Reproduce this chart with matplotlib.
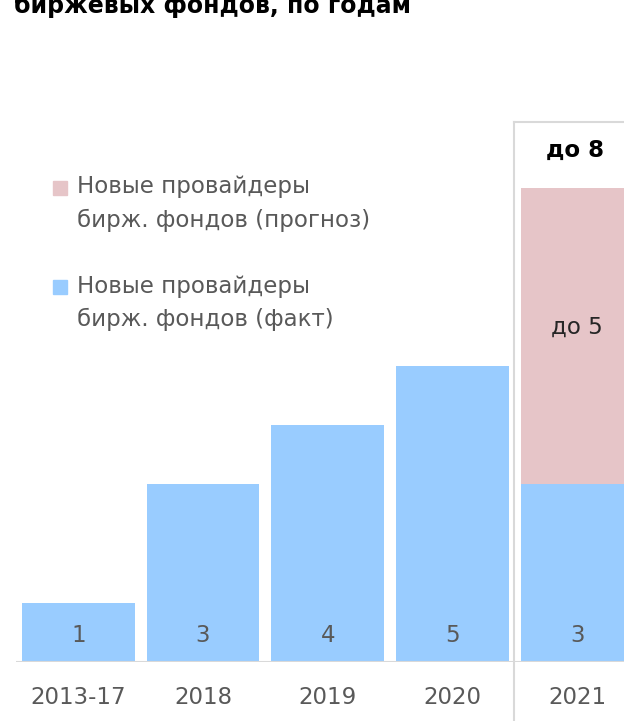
import matplotlib.pyplot as plt
import matplotlib.patches as mpatches
import numpy as np

# data
years = ["2013-17", "2018", "2019", "2020", "2021"]
fact = [1, 3, 4, 5, 3]
forecast = [0, 0, 0, 0, 5]
fact_labels = ["1", "3", "4", "5", "3"]
forecast_label = "до 5"
total_label = "до 8"
legend_forecast = ["Новые провайдеры", "бирж. фондов (прогноз)"]
legend_fact = ["Новые провайдеры", "бирж. фондов (факт)"]
title = "биржевых фондов, по годам"

BLUE = "#99ccff"
PINK = "#e6c5c8"
GREY_TXT = "#595959"
GRID = "#d9d9d9"

plt.rcParams["font.family"] = ["DejaVu Sans"]

W, H = 624, 721
fig = plt.figure(figsize=(W / 100, H / 100), dpi=100)

px_unit = 59.2           # pixels per unit on y
base_px = 662            # baseline (from top)
top_px = 100
ax = fig.add_axes([16 / W, (H - base_px) / H, (W - 16) / W, (base_px - top_px) / H])
ax.set_xlim(-0.5, 4.376)
ax.set_ylim(0, (base_px - top_px) / px_unit)
for s in ax.spines.values():
    s.set_visible(False)
ax.set_yticks([])

x = np.arange(len(years))
ax.bar(x, fact, width=0.905, color=BLUE, zorder=2)
ax.bar(x, forecast, bottom=fact, width=0.905, color=PINK, zorder=2)
ax.axhline(0, color=GRID, linewidth=1.5, zorder=3)

for xi, v, lab in zip(x, fact, fact_labels):
    ax.text(xi, 0.44, lab, ha="center", va="center", fontsize=16.5, color=GREY_TXT, zorder=4)

ax.text(4, fact[4] + forecast[4] * 0.53, forecast_label, ha="center", va="center",
        fontsize=16.5, color="#262626", zorder=4)
ax.text(4.0 - 0.02, (base_px - 150) / px_unit, total_label, ha="center", va="center",
        fontsize=16.5, fontweight="bold", color="black", zorder=4)

ax.set_xticks(x, years)
ax.tick_params(axis="x", length=0, pad=17, labelsize=16.5, labelcolor=GREY_TXT)

# box around forecast year
y_top = (base_px - 122) / px_unit
y_bot = -(H - base_px) / px_unit
ax.plot([3.49, 3.49], [y_bot, y_top], color=GRID, lw=1.5, clip_on=False, zorder=1)
ax.plot([3.49, 4.5], [y_top, y_top], color=GRID, lw=1.5, clip_on=False, zorder=1)

# legend
def legend_entry(y_px, color, lines):
    fig.add_artist(mpatches.Rectangle((53 / W, 1 - (y_px + 8) / H), 14 / W, 14 / H,
                                      transform=fig.transFigure, color=color))
    for i, ln in enumerate(lines):
        fig.text(77 / W, 1 - (y_px + 33 * i) / H, ln, ha="left", va="center",
                 fontsize=16.5, color=GREY_TXT)

legend_entry(187, PINK, legend_forecast)
legend_entry(286, BLUE, legend_fact)

# title (cut off at top)
fig.text(14 / W, 1 - 13 / H, title, ha="left", va="baseline", fontsize=17,
         fontweight="bold", color="black")

fig.savefig("out.png", dpi=100)
